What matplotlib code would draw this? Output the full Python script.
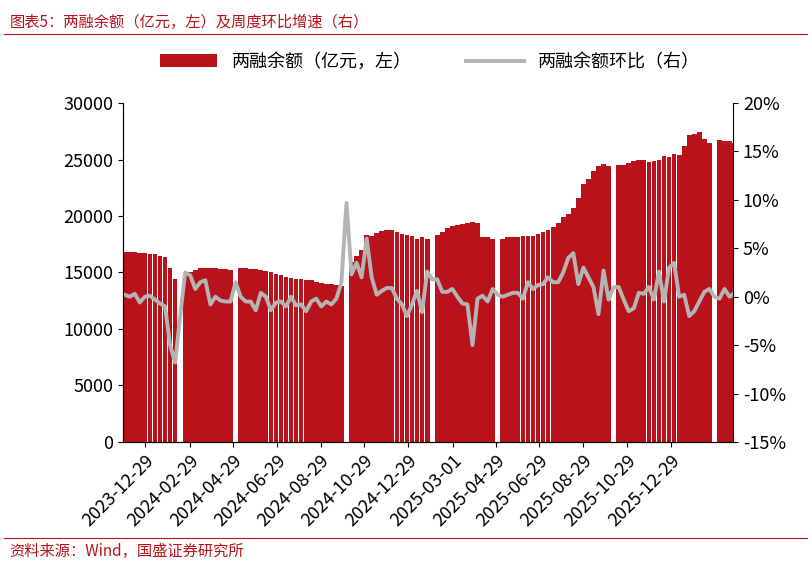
import matplotlib
matplotlib.use("Agg")
import matplotlib.pyplot as plt
import matplotlib.dates as mdates
import numpy as np
import pandas as pd

plt.rcParams['font.family'] = ['Noto Sans CJK SC', 'DejaVu Sans']

nan = np.nan
# weekly balance, 100 million yuan (thousands shown), NaN = holiday week
balance_k = [16.8, 16.8, 16.8, 16.7, 16.7, 16.6, 16.6, 16.5, 16.4, 15.4, 14.4, nan,
             14.9, 15.0, 15.2, 15.4, 15.4, 15.4, 15.4, 15.3, 15.3, 15.2, nan,
             15.4, 15.4, 15.3, 15.3, 15.2, 15.1, 15.0, 14.9, 14.8, 14.6, 14.5, 14.4, 14.4,
             14.3, 14.3, 14.2, 14.1, 14.0, 14.0, 13.9, 13.8, nan,
             15.9, 16.5, 17.0, 18.3, 18.2, 18.5, 18.7, 18.8, 18.8, 18.6, 18.4, 18.3, 18.2, 18.0,
             18.1, 18.0, nan,
             18.3, 18.6, 18.9, 19.1, 19.2, 19.3, 19.4, 19.5, 19.4, 18.1, 18.1, 18.0, nan,
             18.0, 18.1, 18.1, 18.1, 18.2, 18.2, 18.2, 18.4, 18.6, 18.8, 19.0, 19.4, 19.9,
             20.2, 20.7, 21.6, 22.8, 23.3, 24.0, 24.4, 24.6, 24.4, nan,
             24.5, 24.5, 24.7, 24.9, 25.0, 25.0, 24.8, 24.9, 25.0, 25.3, 25.2, 25.5, 25.4,
             26.2, 27.2, 27.3, 27.4, 26.8, 26.5, nan,
             26.7, 26.6, 26.6, 26.5]
# week-on-week change, %
wow_pct = [0.2, 0.0, 0.3, -0.6, 0.0, 0.1, -0.3, -0.7, -1.0, -5.0, -6.8, -2.0,
           2.5, 2.2, 0.8, 1.5, 1.7, -0.8, 0.0, -0.4, -0.5, -0.5, 1.5,
           0.0, -0.5, -0.5, -1.4, 0.4, 0.0, -1.4, -0.6, -0.5, -1.0, 0.0, -0.9, -0.8,
           -1.5, -0.5, -0.2, -1.0, -0.5, -0.8, -0.2, 1.5, 9.7,
           2.3, 3.5, 2.0, 6.0, 2.0, 0.2, 0.6, 0.9, 0.9, -0.2, -0.8, -2.0, -0.8, 0.6,
           -1.6, 2.6, 1.8,
           1.8, 0.5, 0.5, 0.8, 0.0, -0.7, -0.8, -5.0, -0.2, 0.1, -0.5, 0.8,
           0.2, 0.0, 0.2, 0.4, 0.4, -0.2, 1.5, 0.8, 1.2, 1.3, 2.0, 1.5, 1.5, 2.5, 4.0, 4.5,
           1.3, 3.0, 2.0, 1.0, -1.8, 2.7, -0.3, 1.0, 1.0,
           -0.3, -1.5, -1.2, 0.4, 0.3, 1.0, -0.3, 2.6, -0.5, 3.0, 3.5, 0.0, 0.2,
           -2.0, -1.5, -0.5, 0.5, 0.8, 0.0, -0.2, 0.8, 0.0, 0.4, -0.4]

n = min(len(balance_k), len(wow_pct))
dates = pd.date_range("2023-12-01", periods=n, freq="7D")
balance = np.array(balance_k[:n]) * 1000
wow = np.array(wow_pct[:n])

red = "#b8121b"
fig = plt.figure(figsize=(8.11, 5.63), dpi=100)
ax = fig.add_axes([0.152, 0.215, 0.752, 0.602])
ax.bar(dates, balance, width=6.6, color=red, label="两融余额（亿元，左）")
ax.set_ylim(0, 30000)
ax.set_yticks(range(0, 30001, 5000))
ax.set_xlim(pd.Timestamp("2023-11-29"), pd.Timestamp("2026-03-25"))
ticks = pd.date_range("2023-11-29", "2026-01-29", freq="2MS") + pd.Timedelta(days=28)
ax.set_xticks(ticks)
ax.xaxis.set_major_formatter(mdates.DateFormatter("%Y-%m-%d"))
plt.setp(ax.get_xticklabels(), rotation=45, ha="right", rotation_mode="anchor")

ax2 = ax.twinx()
ax2.plot(dates, wow, color="#b4b4b4", lw=2.8, label="两融余额环比（右）")
ax2.set_ylim(-15, 20)
ax2.set_yticks(range(-15, 21, 5))
ax2.set_yticklabels([f"{v}%" for v in range(-15, 21, 5)])

for a in (ax, ax2):
    a.tick_params(labelsize=13, direction="out")
    for s in ("top",):
        a.spines[s].set_visible(False)
ax.spines["right"].set_visible(False)

h1, l1 = ax.get_legend_handles_labels()
h2, l2 = ax2.get_legend_handles_labels()
fig.legend(h1 + h2, l1 + l2, loc="upper center", bbox_to_anchor=(0.53, 0.935), ncol=2,
           frameon=False, fontsize=13, handlelength=3.2, columnspacing=3)

fig.text(0.012, 0.975, "图表5：两融余额（亿元，左）及周度环比增速（右）", color=red,
         fontsize=11, style="italic", va="top")
fig.add_artist(plt.Line2D([0.005, 0.995], [0.94, 0.94], color=red, lw=0.8))
fig.add_artist(plt.Line2D([0.005, 0.995], [0.045, 0.045], color=red, lw=0.8))
fig.text(0.012, 0.035, "资料来源：Wind，国盛证券研究所", color=red, fontsize=11,
         style="italic", va="top")

fig.savefig("out.png", dpi=100)
